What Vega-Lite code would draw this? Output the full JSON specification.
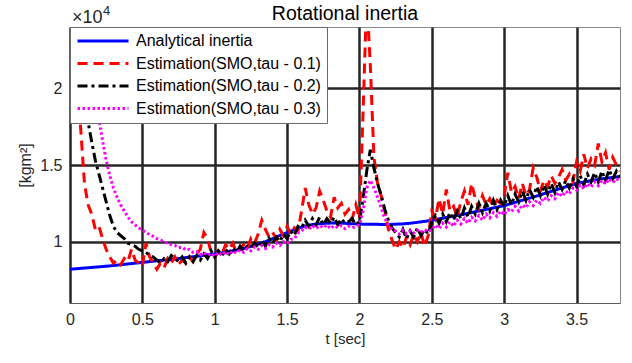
{
 "$schema": "https://vega.github.io/schema/vega-lite/v6.json",
 "width": 550,
 "height": 276,
 "autosize": {"type": "none"},
 "padding": {"left": 70, "top": 27, "right": 12, "bottom": 60},
 "background": "white",
 "config": {"font": "Liberation Sans", "view": {"stroke": "#8a8a8a", "strokeWidth": 1}},
 "title": {"text": "Rotational inertia", "fontSize": 19.5, "fontWeight": "normal", "color": "#000000", "anchor": "middle", "offset": 4, "dy": 23},
 "layer": [
  {
   "data": {"values": [
{"t":0,"a":0.820,"r":2.70,"k":2.80,"m":2.90},
{"t":0.025,"a":0.822,"r":2.40,"k":2.45,"m":2.70},
{"t":0.05,"a":0.824,"r":2.05,"k":2.20,"m":2.50},
{"t":0.075,"a":0.826,"r":1.72,"k":2.02,"m":2.33},
{"t":0.1,"a":0.828,"r":1.38,"k":1.90,"m":2.18},
{"t":0.125,"a":0.830,"r":1.24,"k":1.78,"m":2.05},
{"t":0.15,"a":0.832,"r":1.18,"k":1.65,"m":1.95},
{"t":0.175,"a":0.834,"r":1.08,"k":1.53,"m":1.88},
{"t":0.2,"a":0.836,"r":1.10,"k":1.44,"m":1.80},
{"t":0.225,"a":0.838,"r":1.02,"k":1.35,"m":1.66},
{"t":0.25,"a":0.840,"r":0.95,"k":1.26,"m":1.53},
{"t":0.275,"a":0.842,"r":0.90,"k":1.17,"m":1.43},
{"t":0.3,"a":0.845,"r":0.86,"k":1.10,"m":1.35},
{"t":0.325,"a":0.847,"r":0.88,"k":1.06,"m":1.29},
{"t":0.35,"a":0.850,"r":0.85,"k":1.04,"m":1.24},
{"t":0.375,"a":0.852,"r":0.89,"k":1.02,"m":1.20},
{"t":0.4,"a":0.855,"r":0.87,"k":0.99,"m":1.16},
{"t":0.425,"a":0.857,"r":0.95,"k":0.98,"m":1.13},
{"t":0.45,"a":0.860,"r":0.88,"k":0.97,"m":1.11},
{"t":0.475,"a":0.862,"r":0.86,"k":0.95,"m":1.09},
{"t":0.5,"a":0.865,"r":0.84,"k":0.94,"m":1.075},
{"t":0.525,"a":0.867,"r":0.99,"k":0.93,"m":1.06},
{"t":0.55,"a":0.870,"r":0.90,"k":0.91,"m":1.045},
{"t":0.575,"a":0.872,"r":0.86,"k":0.90,"m":1.035},
{"t":0.6,"a":0.875,"r":0.82,"k":0.88,"m":1.02},
{"t":0.625,"a":0.877,"r":0.86,"k":0.86,"m":1.01},
{"t":0.65,"a":0.880,"r":0.83,"k":0.89,"m":1.00},
{"t":0.675,"a":0.882,"r":0.89,"k":0.87,"m":0.99},
{"t":0.7,"a":0.885,"r":0.86,"k":0.91,"m":0.98},
{"t":0.725,"a":0.887,"r":0.90,"k":0.89,"m":0.975},
{"t":0.75,"a":0.890,"r":0.85,"k":0.87,"m":0.96},
{"t":0.775,"a":0.893,"r":0.88,"k":0.90,"m":0.965},
{"t":0.8,"a":0.896,"r":0.86,"k":0.86,"m":0.945},
{"t":0.825,"a":0.899,"r":0.90,"k":0.90,"m":0.95},
{"t":0.85,"a":0.902,"r":0.87,"k":0.87,"m":0.93},
{"t":0.875,"a":0.905,"r":0.92,"k":0.91,"m":0.935},
{"t":0.9,"a":0.908,"r":0.95,"k":0.88,"m":0.915},
{"t":0.925,"a":0.911,"r":1.06,"k":0.92,"m":0.93},
{"t":0.95,"a":0.914,"r":1.02,"k":0.89,"m":0.91},
{"t":0.975,"a":0.917,"r":0.93,"k":0.94,"m":0.925},
{"t":1.0,"a":0.920,"r":0.90,"k":0.90,"m":0.905},
{"t":1.025,"a":0.924,"r":0.94,"k":0.94,"m":0.93},
{"t":1.05,"a":0.928,"r":0.92,"k":0.91,"m":0.91},
{"t":1.075,"a":0.933,"r":0.98,"k":0.95,"m":0.935},
{"t":1.1,"a":0.937,"r":0.95,"k":0.92,"m":0.915},
{"t":1.125,"a":0.941,"r":0.99,"k":0.96,"m":0.94},
{"t":1.15,"a":0.945,"r":0.93,"k":0.93,"m":0.925},
{"t":1.175,"a":0.950,"r":0.96,"k":0.97,"m":0.945},
{"t":1.2,"a":0.955,"r":0.98,"k":0.94,"m":0.93},
{"t":1.225,"a":0.962,"r":0.95,"k":0.97,"m":0.955},
{"t":1.25,"a":0.970,"r":1.02,"k":0.96,"m":0.94},
{"t":1.275,"a":0.978,"r":0.99,"k":0.99,"m":0.965},
{"t":1.3,"a":0.985,"r":1.05,"k":0.96,"m":0.95},
{"t":1.325,"a":0.993,"r":1.14,"k":1.01,"m":0.975},
{"t":1.35,"a":1.000,"r":1.08,"k":0.97,"m":0.955},
{"t":1.375,"a":1.010,"r":1.03,"k":1.02,"m":0.98},
{"t":1.4,"a":1.020,"r":1.06,"k":0.99,"m":0.965},
{"t":1.425,"a":1.030,"r":1.02,"k":1.03,"m":0.99},
{"t":1.45,"a":1.040,"r":1.08,"k":1.00,"m":0.975},
{"t":1.475,"a":1.050,"r":1.04,"k":1.05,"m":1.00},
{"t":1.5,"a":1.060,"r":1.10,"k":1.02,"m":0.985},
{"t":1.525,"a":1.069,"r":1.05,"k":1.07,"m":1.015},
{"t":1.55,"a":1.078,"r":1.09,"k":1.04,"m":1.02},
{"t":1.575,"a":1.087,"r":1.07,"k":1.10,"m":1.055},
{"t":1.6,"a":1.095,"r":1.20,"k":1.09,"m":1.07},
{"t":1.625,"a":1.101,"r":1.35,"k":1.14,"m":1.095},
{"t":1.65,"a":1.107,"r":1.24,"k":1.10,"m":1.08},
{"t":1.675,"a":1.112,"r":1.18,"k":1.15,"m":1.105},
{"t":1.7,"a":1.115,"r":1.22,"k":1.11,"m":1.085},
{"t":1.725,"a":1.117,"r":1.33,"k":1.16,"m":1.105},
{"t":1.75,"a":1.119,"r":1.27,"k":1.11,"m":1.09},
{"t":1.775,"a":1.120,"r":1.20,"k":1.15,"m":1.11},
{"t":1.8,"a":1.121,"r":1.16,"k":1.12,"m":1.085},
{"t":1.825,"a":1.122,"r":1.29,"k":1.16,"m":1.105},
{"t":1.85,"a":1.122,"r":1.22,"k":1.11,"m":1.09},
{"t":1.875,"a":1.121,"r":1.25,"k":1.15,"m":1.105},
{"t":1.9,"a":1.120,"r":1.18,"k":1.12,"m":1.085},
{"t":1.925,"a":1.118,"r":1.21,"k":1.13,"m":1.10},
{"t":1.95,"a":1.117,"r":1.15,"k":1.15,"m":1.09},
{"t":1.975,"a":1.116,"r":1.24,"k":1.11,"m":1.10},
{"t":2.0,"a":1.115,"r":1.15,"k":1.13,"m":1.11},
{"t":2.025,"a":1.114,"r":1.85,"k":1.28,"m":1.20},
{"t":2.05,"a":1.114,"r":2.60,"k":1.46,"m":1.35},
{"t":2.075,"a":1.113,"r":2.15,"k":1.60,"m":1.40},
{"t":2.1,"a":1.113,"r":1.55,"k":1.48,"m":1.35},
{"t":2.125,"a":1.113,"r":1.38,"k":1.38,"m":1.29},
{"t":2.15,"a":1.112,"r":1.30,"k":1.30,"m":1.22},
{"t":2.175,"a":1.112,"r":1.20,"k":1.21,"m":1.15},
{"t":2.2,"a":1.112,"r":1.08,"k":1.14,"m":1.11},
{"t":2.225,"a":1.113,"r":1.01,"k":1.09,"m":1.08},
{"t":2.25,"a":1.114,"r":0.95,"k":1.06,"m":1.07},
{"t":2.275,"a":1.115,"r":1.00,"k":1.03,"m":1.05},
{"t":2.3,"a":1.116,"r":0.96,"k":1.08,"m":1.075},
{"t":2.325,"a":1.118,"r":1.03,"k":1.02,"m":1.05},
{"t":2.35,"a":1.120,"r":0.98,"k":1.07,"m":1.07},
{"t":2.375,"a":1.123,"r":1.05,"k":1.03,"m":1.055},
{"t":2.4,"a":1.126,"r":1.00,"k":1.09,"m":1.075},
{"t":2.425,"a":1.129,"r":1.06,"k":1.04,"m":1.06},
{"t":2.45,"a":1.132,"r":0.97,"k":1.08,"m":1.08},
{"t":2.475,"a":1.136,"r":1.04,"k":1.05,"m":1.065},
{"t":2.5,"a":1.140,"r":1.20,"k":1.13,"m":1.08},
{"t":2.525,"a":1.144,"r":1.15,"k":1.17,"m":1.11},
{"t":2.55,"a":1.149,"r":1.28,"k":1.12,"m":1.085},
{"t":2.575,"a":1.153,"r":1.18,"k":1.18,"m":1.12},
{"t":2.6,"a":1.158,"r":1.34,"k":1.13,"m":1.095},
{"t":2.625,"a":1.162,"r":1.20,"k":1.19,"m":1.13},
{"t":2.65,"a":1.167,"r":1.23,"k":1.14,"m":1.10},
{"t":2.675,"a":1.171,"r":1.16,"k":1.20,"m":1.14},
{"t":2.7,"a":1.176,"r":1.26,"k":1.15,"m":1.115},
{"t":2.725,"a":1.180,"r":1.33,"k":1.22,"m":1.15},
{"t":2.75,"a":1.185,"r":1.24,"k":1.16,"m":1.12},
{"t":2.775,"a":1.190,"r":1.38,"k":1.23,"m":1.16},
{"t":2.8,"a":1.195,"r":1.28,"k":1.18,"m":1.135},
{"t":2.825,"a":1.200,"r":1.22,"k":1.25,"m":1.17},
{"t":2.85,"a":1.205,"r":1.30,"k":1.19,"m":1.14},
{"t":2.875,"a":1.210,"r":1.24,"k":1.25,"m":1.18},
{"t":2.9,"a":1.215,"r":1.28,"k":1.20,"m":1.155},
{"t":2.925,"a":1.220,"r":1.23,"k":1.27,"m":1.19},
{"t":2.95,"a":1.225,"r":1.27,"k":1.21,"m":1.165},
{"t":2.975,"a":1.230,"r":1.25,"k":1.27,"m":1.20},
{"t":3.0,"a":1.235,"r":1.30,"k":1.23,"m":1.175},
{"t":3.025,"a":1.242,"r":1.45,"k":1.30,"m":1.21},
{"t":3.05,"a":1.249,"r":1.32,"k":1.24,"m":1.195},
{"t":3.075,"a":1.256,"r":1.36,"k":1.31,"m":1.23},
{"t":3.1,"a":1.263,"r":1.28,"k":1.26,"m":1.20},
{"t":3.125,"a":1.270,"r":1.38,"k":1.33,"m":1.24},
{"t":3.15,"a":1.277,"r":1.30,"k":1.27,"m":1.22},
{"t":3.175,"a":1.284,"r":1.34,"k":1.34,"m":1.26},
{"t":3.2,"a":1.291,"r":1.48,"k":1.29,"m":1.235},
{"t":3.225,"a":1.298,"r":1.42,"k":1.36,"m":1.27},
{"t":3.25,"a":1.305,"r":1.33,"k":1.30,"m":1.25},
{"t":3.275,"a":1.313,"r":1.40,"k":1.37,"m":1.29},
{"t":3.3,"a":1.320,"r":1.36,"k":1.31,"m":1.265},
{"t":3.325,"a":1.328,"r":1.43,"k":1.38,"m":1.30},
{"t":3.35,"a":1.335,"r":1.38,"k":1.32,"m":1.28},
{"t":3.375,"a":1.343,"r":1.42,"k":1.39,"m":1.32},
{"t":3.4,"a":1.350,"r":1.47,"k":1.34,"m":1.295},
{"t":3.425,"a":1.358,"r":1.40,"k":1.40,"m":1.33},
{"t":3.45,"a":1.365,"r":1.44,"k":1.35,"m":1.31},
{"t":3.475,"a":1.373,"r":1.39,"k":1.41,"m":1.35},
{"t":3.5,"a":1.380,"r":1.52,"k":1.36,"m":1.335},
{"t":3.525,"a":1.384,"r":1.46,"k":1.43,"m":1.37},
{"t":3.55,"a":1.389,"r":1.57,"k":1.37,"m":1.345},
{"t":3.575,"a":1.393,"r":1.48,"k":1.44,"m":1.38},
{"t":3.6,"a":1.398,"r":1.54,"k":1.39,"m":1.355},
{"t":3.625,"a":1.402,"r":1.50,"k":1.45,"m":1.39},
{"t":3.65,"a":1.406,"r":1.64,"k":1.39,"m":1.365},
{"t":3.675,"a":1.410,"r":1.52,"k":1.46,"m":1.40},
{"t":3.7,"a":1.413,"r":1.58,"k":1.40,"m":1.375},
{"t":3.725,"a":1.416,"r":1.47,"k":1.47,"m":1.41},
{"t":3.75,"a":1.419,"r":1.55,"k":1.41,"m":1.385},
{"t":3.775,"a":1.422,"r":1.50,"k":1.46,"m":1.41},
{"t":3.8,"a":1.425,"r":1.46,"k":1.42,"m":1.40}
   ]},
   "transform": [{"fold": ["a", "r", "k", "m"], "as": ["s", "v"]}],
   "mark": {"type": "line", "clip": true, "strokeWidth": 3},
   "encoding": {
    "x": {"field": "t", "type": "quantitative",
          "scale": {"domain": [0, 3.8], "nice": false, "zero": false},
          "axis": {"values": [0, 0.5, 1, 1.5, 2, 2.5, 3, 3.5], "format": "~g", "title": "t [sec]",
                   "titleFontSize": 15, "titleFontWeight": "normal", "titleColor": "#262626",
                   "labelFontSize": 16, "labelColor": "#262626", "labelPadding": 8, "titlePadding": 4,
                   "ticks": false, "domain": true, "domainColor": "#5a5a5a", "domainWidth": 1,
                   "grid": true, "gridColor": "#262626", "gridWidth": 2.5, "gridOpacity": 1,
                   "labelFlush": false, "labelOverlap": false}},
    "y": {"field": "v", "type": "quantitative",
          "scale": {"domain": [0.6, 2.4], "nice": false, "zero": false},
          "axis": {"values": [1, 1.5, 2], "format": "~g", "title": "[kgm²]",
                   "titleFontSize": 16, "titleFontWeight": "normal", "titleColor": "#262626",
                   "labelFontSize": 16, "labelColor": "#262626", "labelPadding": 8, "titlePadding": 6,
                   "ticks": false, "domain": false,
                   "grid": true, "gridColor": "#262626", "gridWidth": 2.5, "gridOpacity": 1,
                   "labelFlush": false, "labelOverlap": false}},
    "color": {"field": "s", "type": "nominal",
              "scale": {"domain": ["a", "r", "k", "m"], "range": ["#0000ff", "#ff0000", "#000000", "#ff00ff"]},
              "legend": {"title": null, "orient": "top-left", "offset": 0, "labelFontSize": 16, "labelColor": "#000000",
                         "labelExpr": "datum.label == 'a' ? 'Analytical inertia' : datum.label == 'r' ? 'Estimation(SMO,tau - 0.1)' : datum.label == 'k' ? 'Estimation(SMO,tau - 0.2)' : 'Estimation(SMO,tau - 0.3)'",
                         "symbolType": "stroke", "symbolSize": 2601, "symbolStrokeWidth": 3,
                         "fillColor": "white", "strokeColor": "#6a6a6a", "padding": 6, "rowPadding": 6.5,
                         "clipHeight": 16, "labelOffset": 6, "labelLimit": 400}},
    "strokeDash": {"field": "s", "type": "nominal",
              "scale": {"domain": ["a", "r", "k", "m"], "range": [[1, 0], [10, 6], [10, 4, 3, 4], [2.5, 2.5]]},
              "legend": {"title": null, "orient": "top-left", "offset": 0, "labelFontSize": 16, "labelColor": "#000000",
                         "labelExpr": "datum.label == 'a' ? 'Analytical inertia' : datum.label == 'r' ? 'Estimation(SMO,tau - 0.1)' : datum.label == 'k' ? 'Estimation(SMO,tau - 0.2)' : 'Estimation(SMO,tau - 0.3)'",
                         "symbolType": "stroke", "symbolSize": 2601, "symbolStrokeWidth": 3,
                         "fillColor": "white", "strokeColor": "#6a6a6a", "padding": 6, "rowPadding": 6.5,
                         "clipHeight": 16, "labelOffset": 6, "labelLimit": 400}}
   }
  },
  {
   "data": {"values": [{"label": "×10"}]},
   "mark": {"type": "text", "align": "left", "baseline": "alphabetic", "dx": 2, "dy": -4, "fontSize": 18, "color": "#262626"},
   "encoding": {
    "x": {"datum": 0, "type": "quantitative"},
    "y": {"datum": 2.4, "type": "quantitative"},
    "text": {"field": "label", "type": "nominal"}
   }
  },
  {
   "data": {"values": [{"label": "4"}]},
   "mark": {"type": "text", "align": "left", "baseline": "alphabetic", "dx": 33, "dy": -12, "fontSize": 13, "color": "#262626"},
   "encoding": {
    "x": {"datum": 0, "type": "quantitative"},
    "y": {"datum": 2.4, "type": "quantitative"},
    "text": {"field": "label", "type": "nominal"}
   }
  }
 ]
}
